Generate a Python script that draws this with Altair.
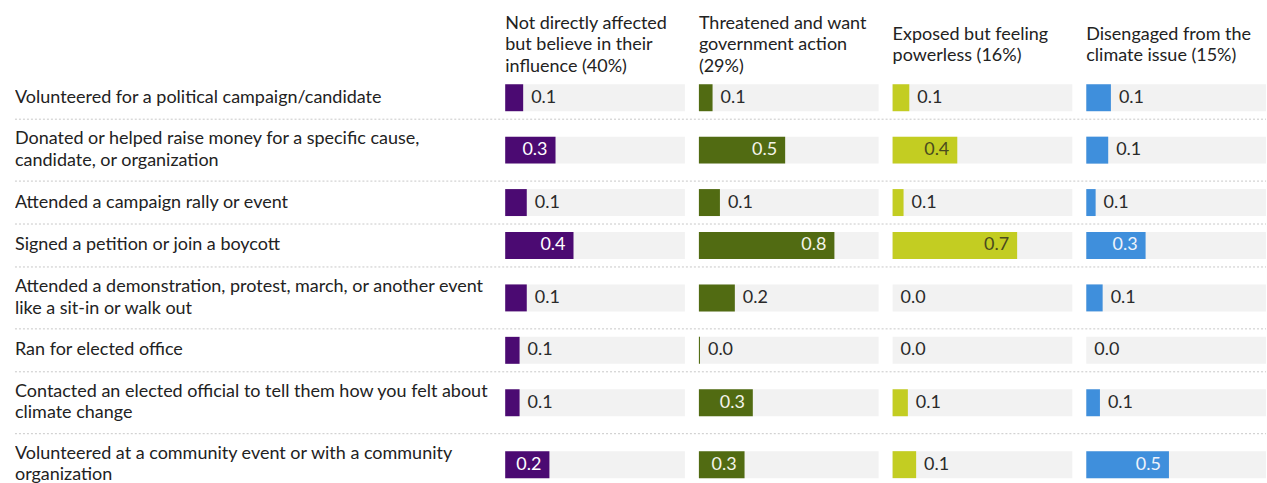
import altair as alt
import pandas as pd

FONT = "Lato"
FS = 18

activities = [
    "Volunteered for a political campaign/candidate",
    "Donated or helped raise money for a specific cause,\ncandidate, or organization",
    "Attended a campaign rally or event",
    "Signed a petition or join a boycott",
    "Attended a demonstration, protest, march, or another event\nlike a sit-in or walk out",
    "Ran for elected office",
    "Contacted an elected official to tell them how you felt about\nclimate change",
    "Volunteered at a community event or with a community\norganization",
]

groups = [
    "Not directly affected\nbut believe in their\ninfluence (40%)",
    "Threatened and want\ngovernment action\n(29%)",
    "Exposed but feeling\npowerless (16%)",
    "Disengaged from the\nclimate issue (15%)",
]

not_affected = [0.10, 0.28, 0.12, 0.38, 0.12, 0.08, 0.08, 0.246]
threatened = [0.076, 0.48, 0.117, 0.754, 0.20, 0.006, 0.30, 0.254]
exposed = [0.093, 0.36, 0.061, 0.693, 0.0, 0.0, 0.085, 0.131]
disengaged = [0.137, 0.122, 0.052, 0.33, 0.091, 0.0, 0.076, 0.46]

series = [not_affected, threatened, exposed, disengaged]
colors = ["#4b0a72", "#516b12", "#c3cd22", "#3f8fdc"]
inside_text = ["#ffffff", "#f4f4ea", "#4a4a1e", "#eef3fb"]

LH = 21.5

# row layout derived from the number of text lines of each label
ONE, TWO = 43, 62
nlines = [a.count("\n") + 1 for a in activities]
heights = [ONE if n == 1 else TWO for n in nlines]
tops, acc = [], 0
for h in heights:
    tops.append(acc)
    acc += h
centers = [t + h / 2 for t, h in zip(tops, heights)]
bottoms = [t + h for t, h in zip(tops, heights)]

PANEL_H = 409
ys = alt.Scale(domain=[0, PANEL_H], reverse=True, nice=False, zero=False)
xs = alt.Scale(domain=[0, 1], nice=False)

rows_df = pd.DataFrame({
    "activity": activities, "center": centers, "bottom": bottoms, "nlines": nlines
})


def label_layer(n):
    return alt.Chart(rows_df[rows_df["nlines"] == n]).mark_text(
        align="left", baseline="middle", lineBreak="\n", font=FONT, fontSize=FS,
        color="#222222", lineHeight=LH, clip=True, dy=-LH * (n - 1) / 2
    ).encode(
        x=alt.value(0),
        y=alt.Y("center:Q", scale=ys, axis=None),
        text="activity:N",
    )


seps = alt.Chart(rows_df.iloc[:-1]).mark_rule(
    color="#c8c8c8", strokeDash=[2, 2], strokeWidth=1
).encode(
    x=alt.value(0),
    x2=alt.value(1253),
    y=alt.Y("bottom:Q", scale=ys, axis=None),
)

label_panel = alt.layer(seps, label_layer(1), label_layer(2)).properties(
    width=477, height=PANEL_H
)

panels = []
for i, g in enumerate(groups):
    d = pd.DataFrame({"center": centers, "value": series[i]})
    base = alt.Chart(d).transform_calculate(
        top="datum.center - 13.5",
        bot="datum.center + 13.5",
        zero="0",
        full="1",
        lab="format(datum.value, '.1f')",
    )
    yenc = alt.Y("top:Q", scale=ys, axis=None)
    bg = base.mark_rect(color="#f2f2f2").encode(
        x=alt.X("zero:Q", scale=xs, axis=None), x2="full:Q", y=yenc, y2="bot:Q"
    )
    bar = base.mark_rect(color=colors[i]).encode(
        x=alt.X("zero:Q", scale=xs, axis=None), x2="value:Q", y=yenc, y2="bot:Q"
    )
    tin = base.transform_filter("datum.value >= 0.22").mark_text(
        align="right", baseline="middle", dx=-8, font=FONT, fontSize=FS,
        color=inside_text[i]
    ).encode(
        x=alt.X("value:Q", scale=xs, axis=None),
        y=alt.Y("center:Q", scale=ys, axis=None),
        text="lab:N",
    )
    tout = base.transform_filter("datum.value < 0.22").mark_text(
        align="left", baseline="middle", dx=8, font=FONT, fontSize=FS,
        color="#2a2a2a"
    ).encode(
        x=alt.X("value:Q", scale=xs, axis=None),
        y=alt.Y("center:Q", scale=ys, axis=None),
        text="lab:N",
    )
    lines = g.split("\n")
    p = alt.layer(bg, bar, tin, tout).properties(
        width=180,
        height=PANEL_H,
        title=alt.TitleParams(
            text=lines, anchor="start", font=FONT, fontSize=FS,
            fontWeight="normal", color="#222222", lineHeight=LH,
            baseline="middle", offset=-8.5,
            dy=-10.75 * (3 - len(lines)),
        ),
    )
    panels.append(p)

chart = alt.hconcat(label_panel, *panels, spacing=14, bounds="flush").properties(
    padding={"left": 14, "top": 14, "right": 0, "bottom": 0}
).configure(background="white").configure_view(stroke=None)

chart.save("out.html", embed_options={"renderer": "svg", "actions": False})
